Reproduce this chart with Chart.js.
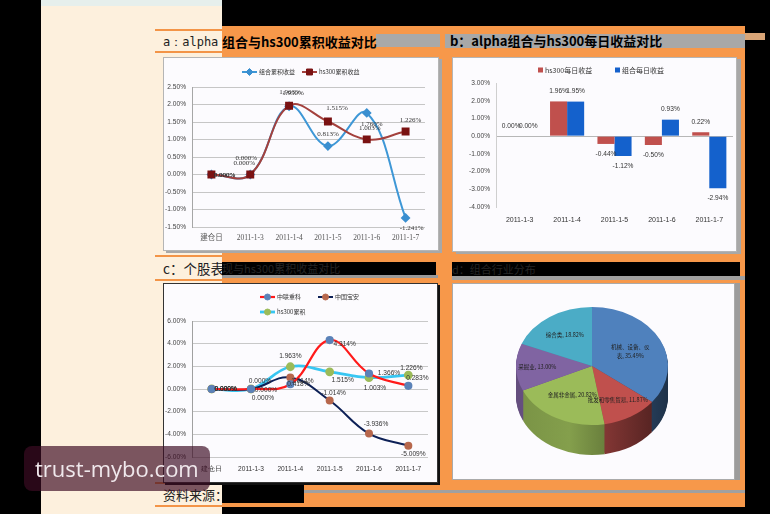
<!DOCTYPE html>
<html>
<head>
<meta charset="utf-8">
<script src="https://cdn.jsdelivr.net/npm/chart.js@4.4.1/dist/chart.umd.min.js"></script>
<style>
  html, body { margin: 0; padding: 0; background: #000; }
  #page { position: relative; width: 770px; height: 514px; overflow: hidden; background: #000; font-family: 'Noto Sans CJK SC', sans-serif; }
  .blk { position: absolute; }
  .panel { position: absolute; box-sizing: border-box; background: #fcfbfe; }
  canvas { position: absolute; }
  .txt { position: absolute; white-space: nowrap; }
</style>
</head>
<body>
<div id="page">
  <!-- 背景 -->
  <div class="blk" style="left:41px;top:0;width:181px;height:514px;background:#fdf0dd"></div>
  <div class="blk" style="left:41px;top:0;width:181px;height:6px;background:#e6efec"></div>
  <div class="blk" style="left:155px;top:29px;width:67px;height:2px;background:#f39447"></div>
  <div class="blk" style="left:155px;top:51px;width:67px;height:2px;background:#f39447"></div>
  <div class="blk" style="left:155px;top:255px;width:67px;height:2px;background:#f39447"></div>
  <div class="blk" style="left:155px;top:279px;width:67px;height:2px;background:#f39447"></div>
  <div class="blk" style="left:155px;top:482px;width:67px;height:2px;background:#f39447"></div>
  <div class="blk" style="left:155px;top:505px;width:67px;height:2px;background:#f39447"></div>
  <div class="blk" style="left:222px;top:26px;width:523px;height:481px;background:#f7984a"></div>
  <div class="blk" style="left:376px;top:34px;width:64px;height:13px;background:#a9a9a9"></div>
  <div class="blk" style="left:445px;top:34px;width:300px;height:14px;background:#a8a8a8"></div>
  <div class="blk" style="left:745px;top:33px;width:20px;height:7px;background:#d9a577"></div>
  <div class="blk" style="left:222px;top:275px;width:216px;height:3px;background:#9a9a9a"></div>
  <div class="blk" style="left:452px;top:262px;width:288px;height:14px;background:#000"></div>
  <div class="blk" style="left:452px;top:276px;width:293px;height:4px;background:#a0a0a0"></div>
  <div class="blk" style="left:304px;top:490px;width:441px;height:3px;background:#a0a0a0"></div>

  <!-- 标题 -->
  <div class="txt" style="left:163px;top:34px;font:12px 'DejaVu Sans Mono',monospace;color:#222;line-height:16px">a：alpha</div>
  <div class="txt" style="left:222px;top:33px;font:bold 13px 'Noto Sans CJK SC';color:#000;line-height:17px">组合与hs300累积收益对比</div>
  <div class="txt" style="left:450px;top:32px;font:bold 13px 'Noto Sans CJK SC';color:#000;line-height:18px">b：alpha组合与hs300每日收益对比</div>
  <div class="txt" style="left:163px;top:259px;font:13.5px 'Noto Sans CJK SC';color:#222;line-height:18px">c：个股表</div>
  <div class="txt" style="left:222px;top:262px;width:214px;height:13px;overflow:hidden;background:#000;font:11px 'Noto Sans CJK SC';color:#262626;line-height:13px">现与hs300累积收益对比</div>
  <div class="txt" style="left:452px;top:262px;font:11px 'Noto Sans CJK SC';color:#262626;line-height:14px">d：组合行业分布</div>
  <div class="txt" style="left:163px;top:486px;font:13px 'Noto Sans CJK SC';color:#222;line-height:18px">资料来源：</div>
  <div class="blk" style="left:222px;top:485px;width:82px;height:18px;background:#000"></div>

  <!-- 面板 -->
  <div class="panel" style="left:163px;top:57px;width:276px;height:194px;border:1px solid #b5b5b5;box-shadow:3px 2px 0 #a8a8a8"></div>
  <div class="panel" style="left:452px;top:57px;width:285px;height:195px;border:1px solid #b5b5b5;box-shadow:4px 2px 0 #a8a8a8"></div>
  <div class="panel" style="left:163px;top:283px;width:275px;height:200px;border:1px solid #333;box-shadow:2px 2px 0 #111"></div>
  <div class="panel" style="left:452px;top:283px;width:283px;height:197px;border:1px solid #aaa;box-shadow:5px 0 0 #9c9c9c"></div>

  <canvas id="chartA" width="277" height="195" style="left:163px;top:57px"></canvas>
  <canvas id="chartB" width="285" height="195" style="left:452px;top:57px"></canvas>
  <canvas id="chartC" width="275" height="199" style="left:163px;top:283px"></canvas>
  <canvas id="chartD" width="283" height="197" style="left:452px;top:283px"></canvas>

  <!-- 水印 -->
  <div class="txt" style="left:24px;top:446px;width:186px;height:45px;border-radius:8px;background:rgba(60,12,36,0.68);color:#f0e8ec;font:22px 'Open Sans',sans-serif;line-height:44px;text-indent:11px">trust-mybo.com</div>
</div>

<script>
// ---- データ ----
const lineCats = ['建仓日', '2011-1-3', '2011-1-4', '2011-1-5', '2011-1-6', '2011-1-7'];
const portfolioCum = [0, 0, 1.950, 0.813, 1.760, -1.241];
const hs300Cum = [0, 0, 1.963, 1.515, 1.003, 1.226];

const dailyCats = ['2011-1-3', '2011-1-4', '2011-1-5', '2011-1-6', '2011-1-7'];
const hs300Daily = [0.00, 1.96, -0.44, -0.50, 0.22];
const portfolioDaily = [0.00, 1.95, -1.12, 0.93, -2.94];

const zoomlionCum = [0, 0, 0.418, 4.314, 1.366, 0.283];
const baoanCum = [0, 0, 1.014, -1.014, -3.936, -5.009];

const industries = ['机械、设备、仪表', '批发和零售贸易', '金属非金属', '采掘业', '综合类'];
const industryShare = [35.49, 11.87, 20.82, 13.00, 18.82];

// ---- 共通設定 ----
Chart.defaults.animation = false;
Chart.defaults.responsive = false;
Chart.defaults.events = [];
Chart.defaults.plugins.legend.display = false;
Chart.defaults.plugins.tooltip.enabled = false;

const SANS = "'Liberation Sans', sans-serif";
const SERIF = "'Liberation Serif', 'Noto Sans CJK SC', serif";

// 数値ラベル（点・棒の位置はライブラリの要素から取る）
const valueLabels = {
  id: 'valueLabels',
  afterDatasetsDraw(chart, args, opts) {
    const ctx = chart.ctx;
    ctx.save();
    ctx.font = opts.font;
    ctx.fillStyle = opts.color;
    ctx.textAlign = 'center';
    ctx.textBaseline = 'middle';
    chart.data.datasets.forEach((ds, di) => {
      chart.getDatasetMeta(di).data.forEach((el, i) => {
        const v = ds.data[i];
        const off = opts.offsets ? opts.offsets[di][i] : [0, v >= 0 ? -opts.gap : opts.gap];
        ctx.fillText(v.toFixed(opts.digits) + '%', el.x + off[0], el.y + off[1]);
      });
    });
    ctx.restore();
  }
};

// Excel風の凡例
const seriesLegend = {
  id: 'seriesLegend',
  afterDraw(chart, args, opts) {
    const ctx = chart.ctx;
    ctx.save();
    ctx.font = opts.font;
    ctx.textBaseline = 'middle';
    ctx.textAlign = 'left';
    chart.data.datasets.forEach((ds, i) => {
      const [x, y] = opts.items[i];
      if (opts.kind === 'box') {
        ctx.fillStyle = ds.backgroundColor;
        ctx.fillRect(x, y - 2.5, 5, 5);
        ctx.fillStyle = opts.color;
        ctx.fillText(ds.label, x + 7, y);
      } else {
        ctx.strokeStyle = ds.borderColor;
        ctx.lineWidth = ds.borderWidth;
        ctx.beginPath();
        ctx.moveTo(x, y);
        ctx.lineTo(x + 15, y);
        ctx.stroke();
        ctx.fillStyle = ds.pointBackgroundColor;
        ctx.strokeStyle = ds.pointBorderColor;
        ctx.lineWidth = 1;
        Chart.helpers.drawPoint(ctx, { pointStyle: ds.pointStyle, radius: ds.pointRadius, borderWidth: 1, rotation: 0 }, x + 7.5, y);
        ctx.fillStyle = opts.color;
        ctx.fillText(ds.label, x + 17, y);
      }
    });
    ctx.restore();
  }
};

const pct2 = v => v.toFixed(2) + '%';

// ---- a: 累積収益 ----
new Chart(document.getElementById('chartA'), {
  type: 'line',
  data: {
    labels: lineCats,
    datasets: [
      { label: '组合累积收益', data: portfolioCum, order: 1, borderColor: '#3e97d6', backgroundColor: '#3e97d6', borderWidth: 2, tension: 0.4,
        pointStyle: 'rectRot', pointRadius: 3.5, pointBackgroundColor: '#3a8fd0', pointBorderColor: '#3a8fd0' },
      { label: 'hs300累积收益', data: hs300Cum, order: 0, borderColor: '#a4413d', backgroundColor: '#a4413d', borderWidth: 2, tension: 0.4,
        pointStyle: 'rect', pointRadius: 4.2, pointBackgroundColor: '#7a1212', pointBorderColor: '#7a1212' }
    ]
  },
  options: {
    layout: { padding: { top: 30, right: 15, bottom: 5, left: 0 } },
    scales: {
      x: {
        offset: true,
        grid: { display: false, drawTicks: false },
        border: { display: false },
        ticks: { padding: 7, maxRotation: 0, autoSkip: false, color: '#555', font: { family: SERIF, size: 7.5 } },
        afterFit: s => { s.height = 20; }
      },
      y: {
        min: -1.5, max: 2.5,
        grid: { color: '#c6c6c6', drawTicks: false },
        border: { color: '#a6a6a6' },
        ticks: { stepSize: 0.5, padding: 6, callback: pct2, color: '#444', font: { family: SANS, size: 6.6 } },
        afterFit: s => { s.width = 29; }
      }
    },
    plugins: {
      valueLabels: {
        font: `7px ${SERIF}`, color: '#333', digits: 3,
        offsets: [
          [[13, 1], [-6, -11], [4, -13], [0, -12], [5, 11], [6, 10]],
          [[13, 1], [-4, -16], [1, -14], [9, -13], [3, -11], [5, -11]]
        ]
      },
      seriesLegend: { font: "6px 'Noto Sans CJK SC'", color: '#333', items: [[79, 15], [139, 15]] }
    }
  },
  plugins: [valueLabels, seriesLegend]
});

// ---- b: 毎日収益 ----
new Chart(document.getElementById('chartB'), {
  type: 'bar',
  data: {
    labels: dailyCats,
    datasets: [
      { label: 'hs300每日收益', data: hs300Daily, backgroundColor: '#c0504d', categoryPercentage: 0.72, barPercentage: 1.0 },
      { label: '组合每日收益', data: portfolioDaily, backgroundColor: '#1461cc', categoryPercentage: 0.72, barPercentage: 1.0 }
    ]
  },
  options: {
    layout: { padding: { top: 26, right: 4, bottom: 20, left: 0 } },
    scales: {
      x: {
        grid: { display: false, drawTicks: false },
        border: { display: false },
        ticks: { padding: 9, maxRotation: 0, autoSkip: false, color: '#333', font: { family: SANS, size: 7 } },
        afterFit: s => { s.height = 25; }
      },
      y: {
        min: -4, max: 3,
        grid: { drawTicks: false, color: c => c.tick.value === 0 ? '#b7b7b7' : 'rgba(0,0,0,0)' },
        border: { color: '#cfcfcf' },
        ticks: { stepSize: 1, padding: 6, callback: pct2, color: '#444', font: { family: SANS, size: 6.6 } },
        afterFit: s => { s.width = 44; }
      }
    },
    plugins: {
      valueLabels: { font: `6.6px ${SANS}`, color: '#333', digits: 2, gap: 10 },
      seriesLegend: { kind: 'box', font: "7px 'Noto Sans CJK SC'", color: '#333', items: [[86, 13], [163, 13]] }
    }
  },
  plugins: [valueLabels, seriesLegend]
});

// ---- c: 個別銘柄 ----
new Chart(document.getElementById('chartC'), {
  type: 'line',
  data: {
    labels: lineCats,
    datasets: [
      { label: '中联重科', data: zoomlionCum, borderColor: '#ff1a1a', backgroundColor: '#ff1a1a', borderWidth: 2.2, tension: 0.4,
        pointStyle: 'circle', pointRadius: 3, pointBackgroundColor: '#5b82b8', pointBorderColor: '#5b82b8' },
      { label: '中国宝安', data: baoanCum, borderColor: '#0d2056', backgroundColor: '#0d2056', borderWidth: 2, tension: 0.4,
        pointStyle: 'circle', pointRadius: 3, pointBackgroundColor: '#b7674c', pointBorderColor: '#b7674c' },
      { label: 'hs300累积', data: hs300Cum, borderColor: '#38c6f2', backgroundColor: '#38c6f2', borderWidth: 2.8, tension: 0.4,
        pointStyle: 'circle', pointRadius: 3, pointBackgroundColor: '#9bbb59', pointBorderColor: '#9bbb59' }
    ]
  },
  options: {
    layout: { padding: { top: 38, right: 10, bottom: 5, left: 0 } },
    scales: {
      x: {
        offset: true,
        grid: { display: false, drawTicks: false },
        border: { display: false },
        ticks: { padding: 8, maxRotation: 0, autoSkip: false, color: '#333', font: { family: SANS, size: 6.6 } },
        afterFit: s => { s.height = 20; }
      },
      y: {
        min: -6, max: 6,
        grid: { color: '#c8c8c8', drawTicks: false },
        border: { color: '#a0a0a0' },
        ticks: { stepSize: 2, padding: 6, callback: pct2, color: '#444', font: { family: SANS, size: 6.6 } },
        afterFit: s => { s.width = 29; }
      }
    },
    plugins: {
      valueLabels: {
        font: `6.6px ${SANS}`, color: '#333', digits: 3,
        offsets: [
          [[14, 0], [15, 1], [8, 0], [15, 4], [20, 0], [9, -8]],
          [[14, 0], [12, 9], [12, 4], [4, -7], [7, -9], [5, 8]],
          [[14, 0], [9, -8], [0, -11], [13, 8], [6, 11], [3, -7]]
        ]
      },
      seriesLegend: { font: "6px 'Noto Sans CJK SC'", color: '#333', items: [[97, 14], [155, 14], [97, 29]] }
    }
  },
  plugins: [valueLabels, seriesLegend]
});

// ---- d: 業種分布（疑似3D円グラフ） ----
const pieColors = ['#4f81bd', '#c0504d', '#9bbb59', '#8064a2', '#4bacc6'];
const PIE_K = 0.776;     // 楕円の縦横比
const PIE_DEPTH = 30;    // 側面の厚み
const PIE_CY = 83;       // 上面の中心y

function shade(hex, f) {
  const n = parseInt(hex.slice(1), 16);
  const t = f < 0 ? 0 : 255, p = Math.abs(f);
  const r = Math.round((t - (n >> 16)) * p + (n >> 16));
  const g = Math.round((t - ((n >> 8) & 255)) * p + ((n >> 8) & 255));
  const b = Math.round((t - (n & 255)) * p + (n & 255));
  return `rgb(${r},${g},${b})`;
}

const pie3d = {
  id: 'pie3d',
  beforeDatasetsDraw(chart) {
    const ctx = chart.ctx;
    const arcs = chart.getDatasetMeta(0).data;
    const cy = arcs[0].y;
    ctx.save();
    ctx.translate(0, PIE_CY);
    ctx.scale(1, PIE_K);
    ctx.translate(0, -cy);
    for (let d = PIE_DEPTH; d > 0; d--) {
      arcs.forEach((arc, i) => {
        const r = arc.outerRadius;
        const g = ctx.createLinearGradient(arc.x - r, 0, arc.x + r, 0);
        g.addColorStop(0, shade(pieColors[i], -0.22));
        g.addColorStop(0.35, shade(pieColors[i], -0.15));
        g.addColorStop(1, shade(pieColors[i], -0.62));
        ctx.fillStyle = g;
        ctx.beginPath();
        ctx.moveTo(arc.x, arc.y + d / PIE_K);
        ctx.arc(arc.x, arc.y + d / PIE_K, r, arc.startAngle, arc.endAngle);
        ctx.closePath();
        ctx.fill();
      });
    }
  },
  afterDatasetsDraw(chart, args, opts) {
    const ctx = chart.ctx;
    ctx.restore();
    const arcs = chart.getDatasetMeta(0).data;
    ctx.save();
    ctx.font = opts.font;
    ctx.fillStyle = opts.color;
    ctx.textAlign = 'center';
    ctx.textBaseline = 'middle';
    arcs.forEach((arc, i) => {
      const mid = (arc.startAngle + arc.endAngle) / 2;
      const rr = arc.outerRadius * opts.radius[i];
      const lx = arc.x + rr * Math.cos(mid);
      const ly = PIE_CY + rr * Math.sin(mid) * PIE_K;
      const text = chart.data.labels[i] + ', ' + chart.data.datasets[0].data[i].toFixed(2) + '%';
      const w = opts.wrap[i];
      if (w) {
        ctx.fillText(text.slice(0, w), lx, ly - 4.5);
        ctx.fillText(text.slice(w), lx, ly + 4.5);
      } else {
        ctx.fillText(text, lx, ly);
      }
    });
    ctx.restore();
  }
};

new Chart(document.getElementById('chartD'), {
  type: 'pie',
  data: {
    labels: industries,
    datasets: [{ data: industryShare, backgroundColor: pieColors, borderWidth: 0 }]
  },
  options: {
    layout: { padding: { top: 20, right: 67, bottom: 25, left: 64 } },
    plugins: {
      pie3d: { font: "5.5px 'Noto Sans CJK SC'", color: '#222', radius: [0.56, 0.66, 0.55, 0.72, 0.64], wrap: [7, 0, 0, 0, 0] }
    }
  },
  plugins: [pie3d]
});
</script>
</body>
</html>
